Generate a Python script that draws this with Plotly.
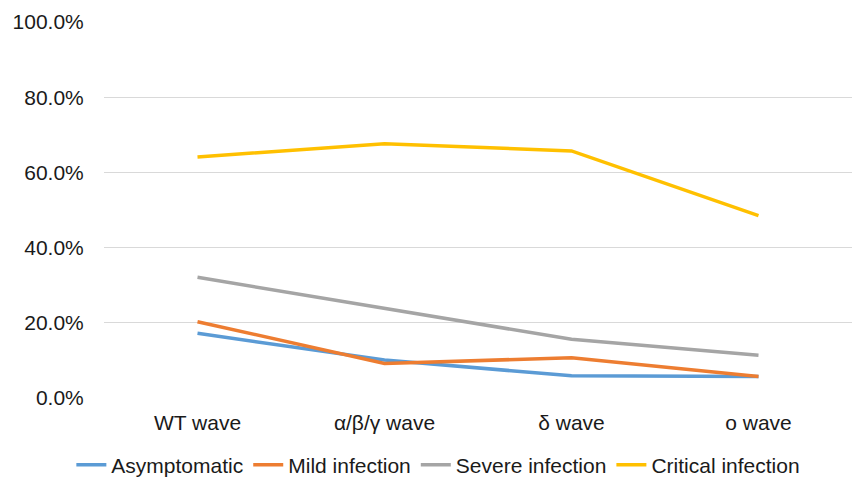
import plotly.graph_objects as go

waves = ["WT wave", "α/β/γ wave", "δ wave", "o wave"]

asymptomatic = [17.2, 10.1, 5.9, 5.7]
mild_infection = [20.3, 9.2, 10.7, 5.7]
severe_infection = [32.1, 23.9, 15.6, 11.4]
critical_infection = [64.1, 67.6, 65.7, 48.5]

series = [
    ("Asymptomatic", asymptomatic, "#5B9BD5"),
    ("Mild infection", mild_infection, "#ED7D31"),
    ("Severe infection", severe_infection, "#A5A5A5"),
    ("Critical infection", critical_infection, "#FFC000"),
]

fig = go.Figure()
for name, vals, color in series:
    fig.add_trace(go.Scatter(
        x=waves, y=vals, name=name, mode="lines",
        line=dict(color=color, width=3.5),
    ))

font_family = "Liberation Sans, Arial, sans-serif"

fig.update_layout(
    width=854, height=477,
    margin=dict(l=104, r=2, t=22, b=79, autoexpand=False),
    paper_bgcolor="white", plot_bgcolor="white",
    font=dict(family=font_family, size=21, color="#1a1a1a"),
    showlegend=True,
    legend=dict(
        orientation="h", x=0.447, xanchor="center",
        yref="container", y=0.025, yanchor="middle",
        font=dict(size=21, color="#1a1a1a"),
        itemwidth=30, tracegroupgap=0,
    ),
    xaxis=dict(
        type="category", range=[-0.5, 3.5],
        showgrid=False, showline=False, zeroline=False,
        ticks="outside", ticklen=6, tickcolor="rgba(0,0,0,0)",
    ),
    yaxis=dict(
        range=[0, 100], dtick=20, tickformat=".1f", ticksuffix="%",
        showgrid=True, gridcolor="#D9D9D9", gridwidth=1,
        zeroline=False, showline=False,
        ticks="outside", ticklen=15, tickcolor="rgba(0,0,0,0)",
    ),
)

fig.write_html("out.html")
